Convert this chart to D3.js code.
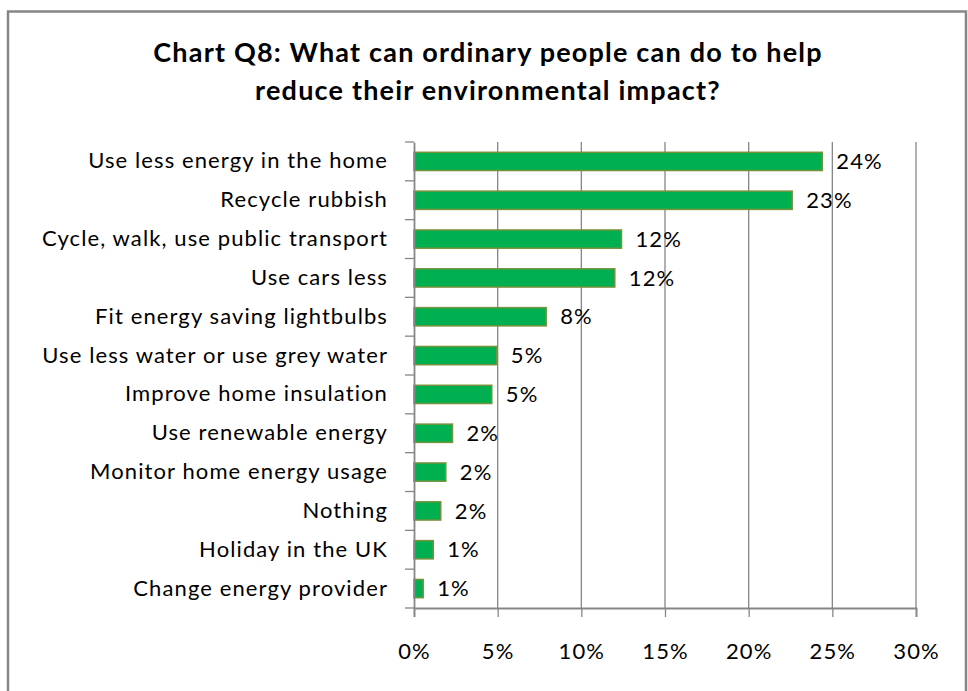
<!DOCTYPE html>
<html>
<head>
<meta charset="utf-8">
<script src="https://cdn.jsdelivr.net/npm/d3@7/dist/d3.min.js"></script>
<style>
  html, body { margin: 0; padding: 0; background: #ffffff; }
  svg { display: block; }
  text { font-family: "Lato", "Open Sans", sans-serif; fill: #000; }
</style>
</head>
<body>
<svg id="chart" width="968" height="691"></svg>
<script>
// Survey responses, share of respondents
const categories = [
  "Use less energy in the home",
  "Recycle rubbish",
  "Cycle, walk, use public transport",
  "Use cars less",
  "Fit energy saving lightbulbs",
  "Use less water or use grey water",
  "Improve home insulation",
  "Use renewable energy",
  "Monitor home energy usage",
  "Nothing",
  "Holiday in the UK",
  "Change energy provider"
];
const shares = [0.244, 0.226, 0.124, 0.120, 0.079, 0.0495, 0.0465, 0.023, 0.019, 0.016, 0.0115, 0.0055];
const tickValues = [0, 0.05, 0.10, 0.15, 0.20, 0.25, 0.30];
const titleLines = [
  "Chart Q8: What can ordinary people can do to help",
  "reduce their environmental impact?"
];

const svg = d3.select("#chart");
const plot = { left: 414, right: 916, top: 142, bottom: 608 };
const grey = "#868686";
const labelFont = "22px";
const labelSpacing = "1.1px";

// outer chart frame
svg.append("rect")
  .attr("x", 8).attr("y", 11.5)
  .attr("width", 958).attr("height", 690)
  .attr("fill", "#fff").attr("stroke", grey).attr("stroke-width", 2.5);

// title
svg.append("g").selectAll("text")
  .data(titleLines)
  .join("text")
  .attr("x", 488)
  .attr("y", (d, i) => 62 + i * 38)
  .attr("text-anchor", "middle")
  .style("font-weight", "bold")
  .style("font-size", "27px")
  .style("letter-spacing", "1.2px")
  .text(d => d);

const x = d3.scaleLinear().domain([0, 0.30]).range([plot.left, plot.right]);
const y = d3.scaleBand().domain(categories).range([plot.top, plot.bottom]).paddingInner(0.53).paddingOuter(0.265);
const yb = d3.scaleBand().domain(categories).range([plot.top, plot.bottom]);

// vertical gridlines
svg.append("g").selectAll("line")
  .data(tickValues.slice(1))
  .join("line")
  .attr("x1", d => x(d)).attr("x2", d => x(d))
  .attr("y1", plot.top).attr("y2", plot.bottom)
  .attr("stroke", grey).attr("stroke-width", 1.3);

// bars
svg.append("g").selectAll("rect")
  .data(shares)
  .join("rect")
  .attr("x", x(0))
  .attr("y", (d, i) => y(categories[i]))
  .attr("width", d => x(d) - x(0))
  .attr("height", y.bandwidth())
  .attr("fill", "#00B050")
  .attr("stroke", "#76923C")
  .attr("stroke-width", 1.5);

// value labels
const pct = d3.format(".0%");
svg.append("g").selectAll("text")
  .data(shares)
  .join("text")
  .attr("x", d => x(d) + 14)
  .attr("y", (d, i) => y(categories[i]) + y.bandwidth() / 2)
  .attr("dy", "0.35em")
  .style("font-size", labelFont)
  .style("letter-spacing", labelSpacing)
  .text(d => pct(d));

// x axis
const xAxis = d3.axisBottom(x).tickValues(tickValues).tickFormat(pct).tickSize(9).tickPadding(26);
const gx = svg.append("g").attr("transform", `translate(0,${plot.bottom})`).call(xAxis);
gx.select(".domain").attr("stroke", grey).attr("stroke-width", 1.8);
gx.selectAll(".tick line").attr("stroke", grey).attr("stroke-width", 1.3);
gx.selectAll(".tick text")
  .style("font-size", labelFont)
  .style("letter-spacing", labelSpacing)
  .attr("fill", "#000");

// y axis
const yAxis = d3.axisLeft(yb).tickSize(0).tickPadding(26);
const gy = svg.append("g").attr("transform", `translate(${plot.left},0)`).call(yAxis);
gy.select(".domain").attr("stroke", grey).attr("stroke-width", 1.8);
gy.selectAll(".tick text")
  .style("font-size", labelFont)
  .style("letter-spacing", labelSpacing)
  .attr("fill", "#000");

// category boundary ticks on the y axis
svg.append("g").selectAll("line")
  .data(d3.range(categories.length + 1))
  .join("line")
  .attr("x1", plot.left - 9).attr("x2", plot.left)
  .attr("y1", i => plot.top + i * yb.step())
  .attr("y2", i => plot.top + i * yb.step())
  .attr("stroke", grey).attr("stroke-width", 1.3);
</script>
</body>
</html>
